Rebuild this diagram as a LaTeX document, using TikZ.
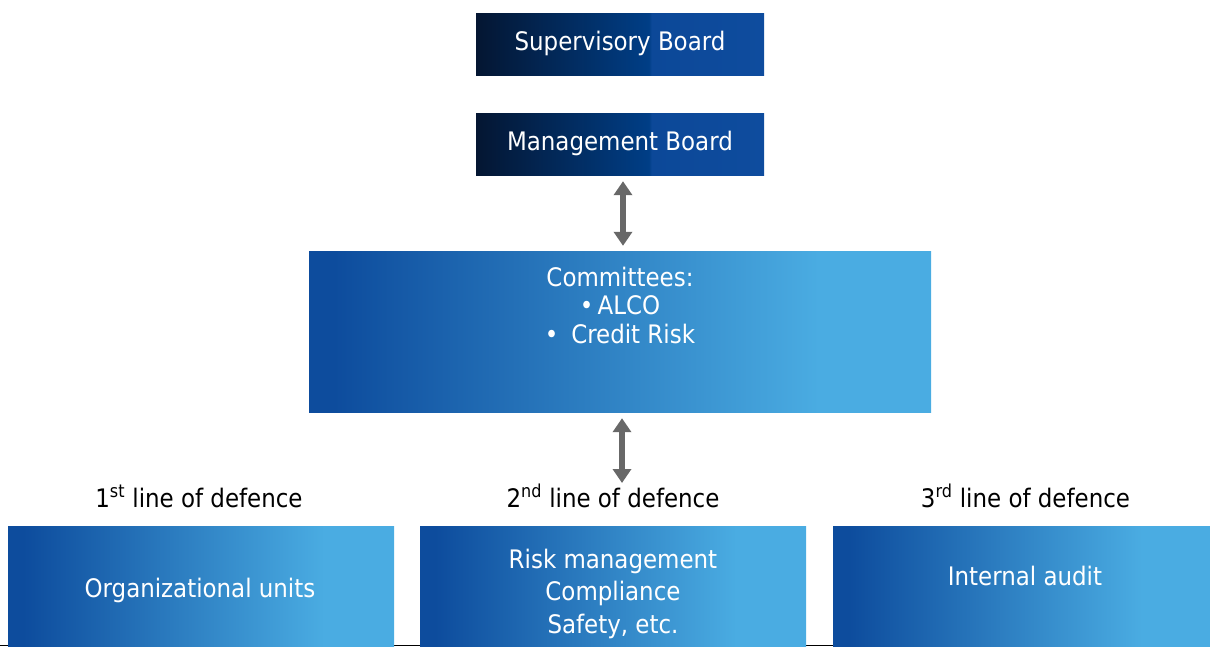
\documentclass[tikz,border=0pt]{standalone}
\usepackage{fontspec}
\setmainfont{DejaVu Sans Condensed}
\usetikzlibrary{arrows.meta}
\definecolor{navyA}{RGB}{4,22,50}
\definecolor{navyB}{RGB}{0,62,134}
\definecolor{navyC}{RGB}{12,72,152}
\definecolor{navyD}{RGB}{14,76,158}
\definecolor{blueL}{RGB}{13,76,157}
\definecolor{blueR}{RGB}{74,172,226}
\definecolor{arrowgray}{RGB}{104,104,104}
\definecolor{baseline}{RGB}{200,200,200}
\pgfdeclarehorizontalshading{darkgrad}{100bp}{color(0bp)=(navyA); color(25bp)=(navyA); color(55bp)=(navyB); color(55.5bp)=(navyC); color(75bp)=(navyD); color(100bp)=(navyD)}
\pgfdeclarehorizontalshading{lightgrad}{100bp}{color(0bp)=(blueL); color(25bp)=(blueL); color(27bp)=(blueL); color(66bp)=(blueR); color(75bp)=(blueR); color(100bp)=(blueR)}
\tikzset{
  topbox/.style={shading=darkgrad, draw=none, minimum width=288pt, minimum height=62pt, inner sep=0pt, text=white, font=\fontsize{25.5}{29}\selectfont},
  lightbox/.style={shading=lightgrad, draw=none, inner sep=0pt},
  boxtext/.style={text=white, align=center, inner sep=0pt, anchor=base},
  linelabel/.style={text=black, font=\fontsize{25.5}{29}\selectfont, inner sep=0pt, anchor=base},
  dblarrow/.style={draw=arrowgray, line width=6pt, {Triangle[width=18pt,length=14pt]}-{Triangle[width=18pt,length=14pt]}}
}
\begin{document}
\begin{tikzpicture}[x=1pt,y=-1pt]
\useasboundingbox (0,0) rectangle (1210,646);
\draw[baseline, line width=0.8pt] (0,645.6) -- (1210,645.6);
% top boxes
\node[topbox, text depth=6pt, text height=19pt] (sb) at (620,44) {Supervisory Board};
\node[topbox, text depth=6pt, text height=19pt] (mb) at (620,144) {Management Board};
% committees
\node[lightbox, minimum width=622pt, minimum height=161pt] (com) at (620,331.5) {};
\node[boxtext, font=\fontsize{25.5}{28.5}\selectfont] (comtext) at (620,343)
  {Committees:\\\textbullet\,ALCO\\\textbullet\enspace Credit Risk};
% arrows
\coordinate (a2end) at (622,483);
\draw[dblarrow] ([xshift=3pt,yshift=-6pt]mb.south) -- ([xshift=3pt,yshift=5pt]com.north);
\draw[dblarrow] ([xshift=2pt,yshift=-6pt]com.south) -- (a2end);
% labels
\node[linelabel] (l1) at (199,507) {1\textsuperscript{st} line of defence};
\node[linelabel] (l2) at (613,507) {2\textsuperscript{nd} line of defence};
\node[linelabel] (l3) at (1025.5,507) {3\textsuperscript{rd} line of defence};
% bottom boxes
\node[lightbox, minimum width=386pt, minimum height=120pt] (b1) at (201,586) {};
\node[lightbox, minimum width=386pt, minimum height=120pt] (b2) at (613,586) {};
\node[lightbox, minimum width=377pt, minimum height=120pt] (b3) at (1021.5,586) {};
\node[boxtext, font=\fontsize{25.5}{29}\selectfont] (t1) at (200,597) {Organizational units};
\node[boxtext, font=\fontsize{25.5}{32.5}\selectfont] (t2) at (613,633) {Risk management\\Compliance\\Safety, etc.};
\node[boxtext, font=\fontsize{25.5}{29}\selectfont] (t3) at (1025,585) {Internal audit};
\end{tikzpicture}
\end{document}
